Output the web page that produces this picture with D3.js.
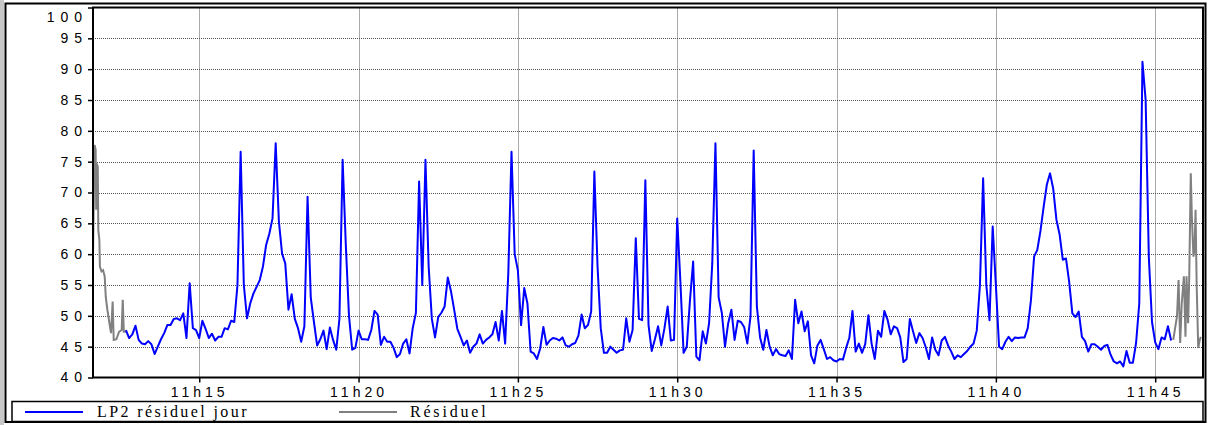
<!DOCTYPE html>
<html>
<head>
<meta charset="utf-8">
<script src="https://cdn.jsdelivr.net/npm/d3@7"></script>
<style>
  body { margin: 0; background: #fff; }
  svg { display: block; }
</style>
</head>
<body>
<div id="chart"></div>
<script>
const width = 1208;
const height = 425;

// times are seconds after 11h00
const blueStart = 762;
const blueStep = 6;
const blueValues = [
  47.7, 46.4, 47.0, 48.4, 46.1, 45.5, 45.4, 45.9, 45.4, 43.8,
  45.0, 46.2, 47.2, 48.5, 48.5, 49.5, 49.6, 49.3, 50.4, 46.4,
  55.3, 48.0, 47.7, 46.4, 49.2, 47.9, 46.4, 47.1, 46.0, 46.6,
  46.6, 48.0, 47.8, 49.2, 49.0, 55.0, 76.6, 55.0, 49.6, 52.0,
  53.6, 54.7, 55.8, 58.0, 61.5, 63.3, 65.8, 78.0, 65.3,
  60.1, 58.5, 51.0, 53.5, 49.5, 48.0, 45.8, 48.3, 69.3, 53.0,
  49.0, 45.2, 46.2, 47.6, 44.6, 48.1, 46.1, 44.5, 49.5, 75.3,
  61.5, 50.0, 44.5, 44.8, 47.6, 46.2, 46.2, 46.1, 47.7, 50.8,
  50.2, 45.3, 46.6, 45.8, 45.8, 44.8, 43.3, 43.8, 45.5, 46.2,
  43.9, 48.0, 50.5, 71.8, 55.0, 75.3, 58.0, 49.5, 46.5, 49.8,
  50.5, 51.5, 56.2, 54.0, 51.0, 47.9, 46.6, 45.2, 46.0,
  44.0, 45.0, 45.5, 47.0, 45.5, 46.1, 46.5, 47.0, 49.0, 46.0,
  50.8, 45.5, 57.0, 76.6, 60.0, 57.4, 48.5, 54.5, 52.0, 44.2,
  43.9, 43.0, 44.7, 48.2, 45.3, 46.0, 46.4, 46.3, 46.0, 46.5,
  45.2, 45.0, 45.4, 45.6, 46.8, 50.2, 48.0, 48.5, 50.7, 73.4,
  58.0, 48.0, 44.0, 44.0, 45.0, 44.5, 44.0, 44.4, 44.5, 49.6,
  45.8, 47.7, 62.6, 49.5, 49.3, 72.0, 48.5, 44.3, 46.2,
  48.3, 45.2, 48.0, 51.5, 46.0, 46.1, 65.8, 55.5, 44.0, 45.0,
  52.5, 58.8, 43.4, 42.8, 47.5, 45.5, 48.8, 58.5, 78.0, 53.0,
  50.5, 45.0, 48.8, 51.0, 46.1, 49.2, 49.0, 48.2, 45.5, 49.9,
  76.8, 51.5, 46.5, 44.5, 47.7, 45.0, 43.6, 44.6, 43.8, 43.6,
  43.5, 44.4, 43.0, 52.6, 48.8, 50.7, 47.5, 49.1, 43.6, 42.3,
  45.2, 46.1, 44.6, 43.0, 43.3, 42.8, 42.6, 43.0, 42.9,
  44.8, 46.4, 50.8, 44.2, 45.5, 44.0, 45.4, 50.1, 45.5, 43.0,
  47.6, 46.6, 50.8, 49.4, 47.0, 48.3, 48.0, 46.5, 42.5, 43.0,
  49.5, 47.5, 45.6, 47.2, 46.4, 44.9, 43.0, 46.5, 44.5, 43.6,
  46.0, 46.6, 45.2, 44.2, 43.0, 43.6, 43.3, 43.8, 44.3, 45.0,
  45.5, 47.6, 55.0, 72.3, 55.0, 49.3, 64.5, 55.0, 45.0, 44.6,
  45.8, 46.6, 45.9, 46.5, 46.4, 46.5, 46.5, 48.0, 52.5,
  59.6, 60.7, 63.8, 67.7, 71.3, 73.1, 70.6, 65.6, 63.2, 59.1,
  59.3, 55.5, 50.4, 49.8, 50.7, 46.6, 45.9, 44.2, 45.4, 45.4,
  45.0, 44.5, 45.1, 45.3, 43.7, 42.6, 42.3, 42.6, 41.8, 44.3,
  42.4, 42.4, 45.6, 52.0, 91.2, 85.0, 59.5, 49.0, 45.7, 44.6,
  46.5, 46.2, 48.3, 46.0
];

const greyHeadTimes = [700, 703, 705, 706, 707, 709, 710, 712, 713, 716, 719, 722, 724,
  727, 729, 732, 734, 737, 739, 744, 749, 754, 756, 758, 762];
const greyHeadValues = [60.1, 77.7, 76.9, 67.2, 74.7, 74.2, 63.9, 62.3, 58.0, 57.2, 57.4, 56.4, 53.1,
  51.0, 49.9, 48.2, 47.2, 52.3, 46.1, 46.2, 47.4, 47.7, 52.6, 47.4, 47.4];

const greyTailTimes = [2734, 2738, 2741, 2744, 2747, 2750, 2753, 2754, 2757, 2759, 2762,
  2764, 2767, 2769, 2772, 2774, 2776, 2778, 2781, 2784, 2786];
const greyTailValues = [46.1, 48.3, 49.9, 55.8, 45.6, 52.0, 55.3, 56.4, 46.6, 56.4, 48.8,
  55.8, 73.1, 66.1, 59.6, 60.7, 67.2, 55.3, 44.8, 46.1, 46.6];

const xTickSeconds = [900, 1200, 1500, 1800, 2100, 2400, 2700];
const yTicks = [40, 45, 50, 55, 60, 65, 70, 75, 80, 85, 90, 95, 100];
const seriesNames = ["LP2 résiduel jour", "Résiduel"];
const seriesColors = ["#0000ff", "#808080"];

const base = new Date(2020, 0, 1, 11, 0, 0);
const toDate = s => new Date(base.getTime() + s * 1000);

const blueData = blueValues.map((v, i) => ({ t: toDate(blueStart + i * blueStep), v }));
const greyHead = greyHeadTimes.map((t, i) => ({ t: toDate(t), v: greyHeadValues[i] }));
const greyTail = greyTailTimes.map((t, i) => ({ t: toDate(t), v: greyTailValues[i] }));

const plot = { left: 93, right: 1203, top: 7.5, bottom: 377.5 };

const svg = d3.select("#chart")
  .append("svg")
  .attr("width", width)
  .attr("height", height);

const x = d3.scaleTime()
  .domain([toDate(700), toDate(2790)])
  .range([plot.left, plot.right]);

const y = d3.scaleLinear()
  .domain([40, 100])
  .range([plot.bottom, plot.top]);

// outer frame
svg.append("rect").attr("x", 0).attr("y", 0).attr("width", 4).attr("height", height).attr("fill", "#c8c8c8");
svg.append("rect")
  .attr("x", 5.5).attr("y", 3.5).attr("width", 1200).attr("height", 418.5)
  .attr("fill", "none").attr("stroke", "#000").attr("stroke-width", 2);

// grid
svg.append("g")
  .selectAll("line.h")
  .data(yTicks.filter(d => d > 40 && d < 100))
  .enter().append("line")
  .attr("x1", plot.left).attr("x2", plot.right)
  .attr("y1", d => Math.round(y(d)) + 0.5).attr("y2", d => Math.round(y(d)) + 0.5)
  .attr("stroke", "#555").attr("stroke-dasharray", "1,1");

svg.append("g")
  .selectAll("line.v")
  .data(xTickSeconds)
  .enter().append("line")
  .attr("x1", d => Math.round(x(toDate(d))) + 0.5).attr("x2", d => Math.round(x(toDate(d))) + 0.5)
  .attr("y1", plot.top).attr("y2", plot.bottom)
  .attr("stroke", "#555").attr("stroke-dasharray", "1,1");

// series
const line = d3.line().x(d => x(d.t)).y(d => y(d.v));

svg.append("path").datum(greyHead).attr("d", line)
  .attr("fill", "none").attr("stroke", seriesColors[1]).attr("stroke-width", 2);
svg.append("path").datum(greyTail).attr("d", line)
  .attr("fill", "none").attr("stroke", seriesColors[1]).attr("stroke-width", 2);
svg.append("path").datum(blueData).attr("d", line)
  .attr("fill", "none").attr("stroke", seriesColors[0]).attr("stroke-width", 2)
  .attr("stroke-linejoin", "round");

// plot frame
svg.append("rect")
  .attr("x", plot.left).attr("y", plot.top)
  .attr("width", plot.right - plot.left).attr("height", plot.bottom - plot.top)
  .attr("fill", "none").attr("stroke", "#000").attr("stroke-width", 2);

// axes
const xAxis = svg.append("g")
  .attr("transform", `translate(0,${plot.bottom})`)
  .call(d3.axisBottom(x)
    .tickValues(xTickSeconds.map(toDate))
    .tickFormat(d3.timeFormat("%Hh%M"))
    .tickSize(5).tickPadding(5));

const yAxis = svg.append("g")
  .attr("transform", `translate(${plot.left},0)`)
  .call(d3.axisLeft(y).tickValues(yTicks).tickSize(5).tickPadding(6));

[xAxis, yAxis].forEach(g => {
  g.select(".domain").remove();
  g.selectAll(".tick line").attr("stroke", "#000").attr("stroke-width", 1.5);
  g.selectAll("text")
    .attr("fill", "#000")
    .style("font-family", "'Liberation Sans', Arial, sans-serif")
    .style("font-size", "14px");
});
xAxis.selectAll("text").style("letter-spacing", "4px");
yAxis.selectAll("text").style("letter-spacing", "6px").attr("dx", "6px");
yAxis.selectAll(".tick").filter(d => d === 100).select("text").attr("dy", "1.0em");

// legend
const legend = svg.append("g");
legend.append("rect")
  .attr("x", 12).attr("y", 401.5).attr("width", 1191).attr("height", 20)
  .attr("fill", "#fff").attr("stroke", "#000").attr("stroke-width", 1.5);

const legendItems = [
  { x: 25, textX: 97 },
  { x: 339, textX: 410 }
];
legendItems.forEach((item, i) => {
  legend.append("line")
    .attr("x1", item.x).attr("x2", item.x + 58)
    .attr("y1", 412).attr("y2", 412)
    .attr("stroke", seriesColors[i]).attr("stroke-width", 2);
  legend.append("text")
    .attr("x", item.textX).attr("y", 417)
    .style("font-family", "'Liberation Serif', 'Times New Roman', serif")
    .style("font-size", "16px")
    .style("letter-spacing", i === 0 ? "2.4px" : "2.8px")
    .text(seriesNames[i]);
});
</script>
</body>
</html>
